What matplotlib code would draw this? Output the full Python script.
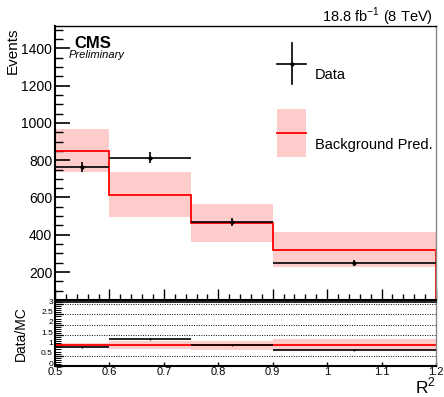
import numpy as np
import matplotlib
matplotlib.use("Agg")
import matplotlib.pyplot as plt
import matplotlib.transforms as mtransforms
from matplotlib.ticker import MultipleLocator, FixedLocator

plt.rcParams['font.family'] = ['Liberation Sans', 'DejaVu Sans']

# R^2 binning and yields
bin_edges = [0.5, 0.6, 0.75, 0.9, 1.2]
data_counts = [765, 813, 470, 248]
bkg_pred = [850, 615, 465, 320]
bkg_unc = [115, 120, 102, 94]

edges = np.array(bin_edges)
centers = 0.5 * (edges[:-1] + edges[1:])
data = np.array(data_counts, dtype=float)
bkg = np.array(bkg_pred, dtype=float)
unc = np.array(bkg_unc, dtype=float)
data_err = np.sqrt(data)

W, H = 444, 397
fig = plt.figure(figsize=(W / 100, H / 100), dpi=100)

def frac(x0, x1, ytop, ybot):
    return [x0 / W, 1 - ybot / H, (x1 - x0) / W, (ybot - ytop) / H]

ax = fig.add_axes(frac(55, 436, 26, 300))
rax = fig.add_axes(frac(55, 436, 302, 366))

band_col = '#ffcccc'
red = '#ff0000'

# ---- main panel ----
for i in range(len(centers)):
    ax.fill_between([edges[i], edges[i + 1]], bkg[i] - unc[i], bkg[i] + unc[i],
                    color=band_col, lw=0, zorder=1)
ax.stairs(bkg, edges, color=red, lw=1.3, zorder=2)
ax.hlines(data, edges[:-1], edges[1:], color='black', lw=1.2, zorder=3)
ax.errorbar(centers, data, yerr=data_err, fmt='o', ms=2, color='black',
            ecolor='black', elinewidth=1.2, capsize=0, zorder=4)

ax.set_xlim(0.5, 1.2)
ax.set_ylim(50, 1520)
ax.yaxis.set_major_locator(MultipleLocator(200))
ax.yaxis.set_major_formatter(plt.FuncFormatter(lambda v, p: f"{int(v)}" if v >= 200 else ""))
ax.yaxis.set_minor_locator(MultipleLocator(50))
ax.xaxis.set_major_locator(MultipleLocator(0.1))
ax.xaxis.set_minor_locator(MultipleLocator(0.02))
ax.tick_params(axis='x', which='both', direction='in', top=False, labelbottom=False)
ax.tick_params(axis='x', which='major', length=8, width=1)
ax.tick_params(axis='x', which='minor', length=4, width=1)
ax.tick_params(axis='y', which='both', direction='in', right=False, labelsize=10, pad=2)
ax.tick_params(axis='y', which='major', length=11, width=1.2)
ax.tick_params(axis='y', which='minor', length=6, width=1)
ax.spines['left'].set_linewidth(1.5)
ax.spines['bottom'].set_linewidth(1.5)
ax.spines['top'].set_linewidth(1.0)
ax.spines['right'].set_color('#888888')
ax.spines['right'].set_linewidth(1.0)

fig.text(6 / W, 1 - 27 / H, 'Events', rotation=90, ha='left', va='top', fontsize=11)
fig.text(433 / W, 1 - 22 / H, r'18.8 fb$^{\mathregular{-1}}$ (8 TeV)', ha='right',
         va='baseline', fontsize=10.5)
fig.text(74 / W, 1 - 47.5 / H, 'CMS', ha='left', va='baseline', fontsize=12,
         fontweight='bold')
fig.text(69 / W, 1 - 58.5 / H, 'Preliminary', ha='left', va='baseline', fontsize=8,
         style='italic')

# legend drawn by hand in figure pixels
lx0, lx1 = 277, 306
fig.add_artist(plt.Line2D([(lx0 + lx1) / 2 / W] * 2, [1 - 43 / H, 1 - 84 / H],
                          color='black', lw=1.2))
fig.add_artist(plt.Line2D([lx0 / W, lx1 / W], [1 - 63.5 / H] * 2, color='black', lw=1.2))
fig.add_artist(plt.Line2D([(lx0 + lx1) / 2 / W], [1 - 63.5 / H], marker='o', ms=2,
                          color='black'))
fig.text(315 / W, 1 - 79 / H, 'Data', ha='left', va='baseline', fontsize=10.5)
fig.add_artist(plt.Rectangle((lx0 / W, 1 - 157 / H), (lx1 - lx0) / W, 48 / H,
                             color=band_col, lw=0))
fig.add_artist(plt.Line2D([lx0 / W, lx1 / W], [1 - 132.5 / H] * 2, color=red, lw=1.3))
fig.text(315 / W, 1 - 148.5 / H, 'Background Pred.', ha='left', va='baseline',
         fontsize=10.5)

# ---- ratio panel ----
ratio = data / bkg
ratio_err = data_err / bkg
rel_unc = unc / bkg
for y in [0.5, 1.0, 1.5, 2.0, 2.5, 3.0]:
    rax.axhline(y, color='black', lw=0.7, ls=(0, (1, 1.5)), zorder=0)
for i in range(len(centers)):
    rax.fill_between([edges[i], edges[i + 1]], 1 - rel_unc[i], 1 + rel_unc[i],
                     color=band_col, lw=0, zorder=1)
rax.hlines(np.ones(len(centers)), edges[:-1], edges[1:], color=red, lw=1.3, zorder=2)
rax.hlines(ratio, edges[:-1], edges[1:], color='black', lw=1.2, zorder=3)
rax.errorbar(centers, ratio, yerr=ratio_err, fmt='none', ecolor='black',
             elinewidth=1, capsize=0, zorder=4)

rax.set_xlim(0.5, 1.2)
rax.set_ylim(0, 3.1)
rax.yaxis.set_major_locator(FixedLocator([0, 0.5, 1, 1.5, 2, 2.5, 3]))
rax.yaxis.set_major_formatter(plt.FuncFormatter(lambda v, p: f"{v:g}"))
rax.yaxis.set_minor_locator(MultipleLocator(0.1))
rax.xaxis.set_major_locator(MultipleLocator(0.1))
rax.xaxis.set_major_formatter(plt.FuncFormatter(lambda v, p: f"{v:g}"))
rax.xaxis.set_minor_locator(MultipleLocator(0.02))
rax.tick_params(axis='y', which='both', direction='in', right=False, labelsize=6, pad=1.5)
rax.tick_params(axis='y', which='major', length=6, width=1)
rax.tick_params(axis='y', which='minor', length=4, width=0.7)
rax.tick_params(axis='x', which='both', direction='in', top=False, labelsize=8, pad=1)
rax.tick_params(axis='x', which='major', length=3, width=1)
rax.tick_params(axis='x', which='minor', length=0)
rax.spines['left'].set_linewidth(1.5)
rax.spines['bottom'].set_linewidth(1.5)
rax.spines['top'].set_linewidth(1.2)
rax.spines['right'].set_color('#888888')
rax.spines['right'].set_linewidth(1.0)

# lift the ratio tick labels slightly so "0" clears the x labels below
lift = mtransforms.ScaledTranslation(0, 3 / 100, fig.dpi_scale_trans)
for lab in rax.get_yticklabels():
    lab.set_transform(lab.get_transform() + lift)

fig.text(14 / W, 1 - 334 / H, 'Data/MC', rotation=90, ha='left', va='center', fontsize=10)
fig.text(436 / W, 1 - 393.5 / H, r'R$^{\mathregular{2}}$', ha='right', va='baseline',
         fontsize=12.5)

fig.savefig('out.png', dpi=100)
